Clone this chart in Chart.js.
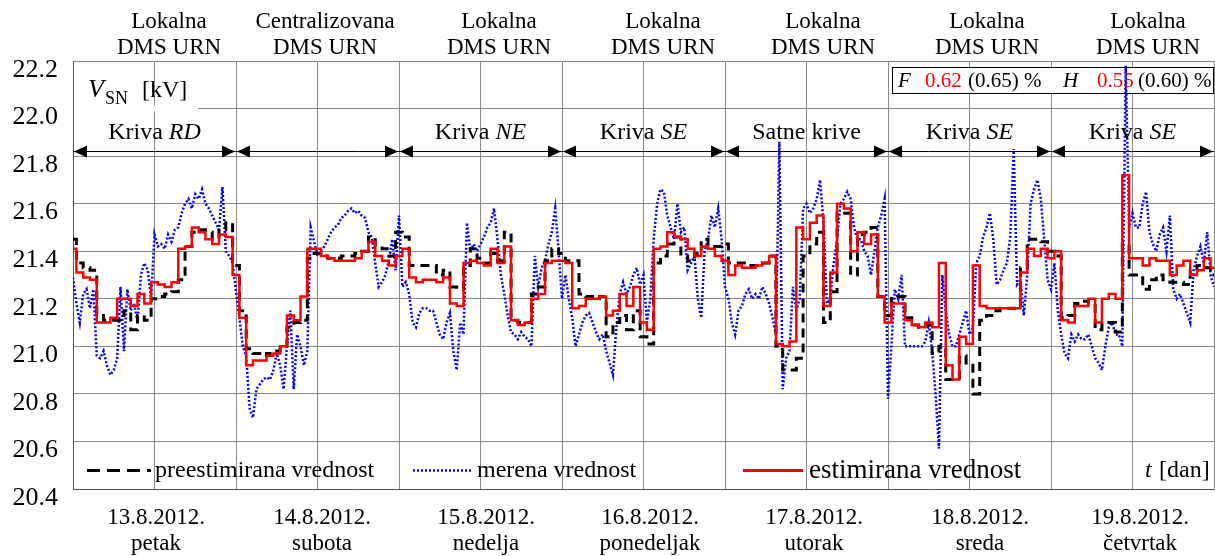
<!DOCTYPE html>
<html>
<head>
<meta charset="utf-8">
<script src="https://cdn.jsdelivr.net/npm/chart.js@4.4.1/dist/chart.umd.min.js"></script>
<style>
  html, body { margin: 0; padding: 0; background: #fff; }
  canvas { display: block; }
</style>
</head>
<body>
<canvas id="chart" width="1215" height="556"></canvas>
<script>
/* ================================
   DATA (hours from 13.8.2012. 00h)
================================ */
const dayTop = [
  ["Lokalna", "DMS URN"], ["Centralizovana", "DMS URN"], ["Lokalna", "DMS URN"],
  ["Lokalna", "DMS URN"], ["Lokalna", "DMS URN"], ["Lokalna", "DMS URN"], ["Lokalna", "DMS URN"]
];
const dayDates = ["13.8.2012.", "14.8.2012.", "15.8.2012.", "16.8.2012.", "17.8.2012.", "18.8.2012.", "19.8.2012."];
const dayNames = ["petak", "subota", "nedelja", "ponedeljak", "utorak", "sreda", "četvrtak"];
const curveLabels = [["Kriva ", "RD"], null, ["Kriva ", "NE"], ["Kriva ", "SE"], ["Satne krive", ""], ["Kriva ", "SE"], ["Kriva ", "SE"]];
const yTicks = [20.4, 20.6, 20.8, 21.0, 21.2, 21.4, 21.6, 21.8, 22.0, 22.2];

// estimirana vrednost (hourly)
const estimated = [
  21.41,21.31,21.29,21.28,21.10,21.10,21.12,21.20,21.20,21.17,21.22,21.18,21.27,21.26,21.25,21.27,21.41,21.42,21.50,21.48,21.45,21.43,21.47,21.46,
  21.30,21.12,20.92,20.94,20.94,20.96,20.97,21.00,21.13,21.11,21.21,21.41,21.41,21.38,21.37,21.36,21.36,21.36,21.37,21.40,21.44,21.38,21.36,21.34,
  21.38,21.41,21.29,21.27,21.28,21.28,21.27,21.29,21.18,21.17,21.35,21.36,21.35,21.34,21.41,21.35,21.42,21.11,21.09,21.10,21.20,21.22,21.35,21.36,
  21.36,21.35,21.16,21.17,21.20,21.20,21.21,21.13,21.15,21.22,21.17,21.25,21.10,21.07,21.41,21.42,21.48,21.46,21.45,21.41,21.38,21.42,21.41,21.38,
  21.36,21.30,21.34,21.33,21.33,21.34,21.35,21.38,21.01,21.00,21.02,21.50,21.45,21.52,21.55,21.17,21.31,21.60,21.58,21.40,21.48,21.43,21.47,21.21,
  21.10,21.18,21.18,21.11,21.09,21.08,21.10,21.08,21.35,20.92,20.86,21.04,21.01,21.34,21.17,21.16,21.16,21.16,21.16,21.16,21.31,21.41,21.38,21.41,
  21.37,21.40,21.11,21.10,21.17,21.17,21.20,21.10,21.20,21.22,21.20,21.72,21.37,21.37,21.34,21.37,21.36,21.36,21.30,21.34,21.36,21.30,21.32,21.37,
  21.33
];

// preestimirana vrednost (hourly)
const preestimated = [
  21.45,21.35,21.33,21.32,21.13,21.11,21.11,21.11,21.15,21.07,21.13,21.11,21.20,21.21,21.22,21.23,21.28,21.42,21.48,21.49,21.48,21.45,21.49,21.52,
  21.34,21.15,20.99,20.97,20.96,20.97,20.98,21.00,21.08,21.10,21.11,21.37,21.39,21.38,21.37,21.37,21.38,21.38,21.39,21.40,21.46,21.42,21.41,21.38,
  21.48,21.46,21.34,21.34,21.34,21.34,21.30,21.32,21.25,21.24,21.34,21.41,21.37,21.35,21.39,21.36,21.48,21.11,21.10,21.10,21.22,21.25,21.36,21.41,
  21.39,21.36,21.36,21.22,21.21,21.20,21.21,21.04,21.10,21.13,21.07,21.15,21.04,21.01,21.35,21.38,21.43,21.46,21.38,21.36,21.39,21.45,21.42,21.42,
  21.43,21.35,21.35,21.35,21.34,21.34,21.35,21.38,21.00,20.90,20.90,20.95,21.38,21.43,21.48,21.10,21.23,21.56,21.56,21.30,21.47,21.48,21.50,21.21,
  21.13,21.21,21.21,21.12,21.09,21.08,21.09,20.97,21.00,20.86,20.86,20.96,20.93,20.80,21.11,21.13,21.15,21.16,21.16,21.16,21.33,21.45,21.45,21.44,
  21.40,21.38,21.12,21.13,21.18,21.19,21.18,21.07,21.10,21.10,21.06,21.43,21.30,21.30,21.24,21.28,21.30,21.28,21.27,21.27,21.26,21.32,21.34,21.33,
  21.30
];

// merena vrednost (every half hour)
const measured = [
  21.29,21.18, 21.10,21.22, 21.24,21.16, 21.24,20.96, 20.95,20.98, 20.92,20.88, 20.90,20.95, 21.25,20.98, 21.24,21.15, 21.18,21.10, 21.30,21.35, 21.32,21.20,
  21.47,21.42, 21.43,21.41, 21.47,21.44, 21.49,21.50, 21.56,21.60, 21.62,21.58, 21.64,21.62, 21.66,21.60, 21.58,21.55, 21.52,21.49, 21.67,21.40, 21.38,21.35,
  21.23,21.12, 21.00,20.96, 20.74,20.70, 20.82,20.84, 20.86,20.87, 20.86,20.90, 20.97,20.92, 20.82,21.00, 21.15,20.82, 21.05,21.00, 20.92,20.98, 21.50,21.44,
  21.38,21.40, 21.42,21.45, 21.48,21.50, 21.51,21.54, 21.55,21.57, 21.58,21.56, 21.57,21.55, 21.54,21.48, 21.46,21.35, 21.25,21.27, 21.30,21.36, 21.45,21.32,
  21.55,21.25, 21.27,21.22, 21.10,21.08, 21.14,21.16, 21.16,21.15, 21.15,21.10, 21.05,21.03, 21.10,21.14, 20.98,20.90, 21.10,21.05, 21.52,21.40, 21.43,21.40,
  21.43,21.46, 21.50,21.52, 21.58,21.45, 21.30,21.22, 21.13,21.06, 21.05,21.03, 21.06,21.04, 21.03,21.00, 21.38,21.25, 21.33,21.36, 21.43,21.48, 21.58,21.40,
  21.20,21.30, 21.20,21.12, 21.00,21.05, 21.10,21.13, 21.14,21.10, 21.06,21.03, 21.05,20.98, 20.93,20.88, 21.08,21.22, 21.27,21.22, 21.25,21.30, 21.33,21.26,
  21.30,21.10, 21.20,21.45, 21.60,21.66, 21.65,21.55, 21.50,21.45, 21.60,21.48, 21.50,21.32, 21.35,21.38, 21.20,21.12, 21.40,21.45, 21.55,21.50, 21.58,21.45,
  21.25,21.20, 21.10,21.05, 21.15,21.17, 21.22,21.24, 21.20,21.22, 21.20,21.25, 21.22,21.18, 21.12,21.05, 21.86,20.82, 20.95,20.98, 21.25,21.15, 21.20,21.58,
  21.60,21.56, 21.58,21.62, 21.70,21.52, 21.18,21.20, 21.35,21.45, 21.60,21.62, 21.65,21.62, 21.50,21.45, 21.45,21.40, 21.38,21.30, 21.40,21.50, 21.55,21.62,
  20.78,21.00, 21.24,21.20, 21.30,21.00, 21.00,21.00, 21.00,21.00, 21.00,21.02, 21.10,20.98, 20.80,20.57, 21.30,21.15, 21.05,21.00, 21.00,21.05, 21.10,21.15,
  21.05,21.08, 21.35,21.38, 21.46,21.50, 21.56,21.45, 21.26,21.28, 21.32,21.35, 21.46,21.83, 21.26,21.28, 21.13,21.30, 21.60,21.66, 21.70,21.62, 21.45,21.28,
  21.24,21.35, 21.15,21.05, 20.97,20.95, 21.05,21.02, 21.05,21.03, 21.03,21.05, 21.00,20.95, 20.93,20.90, 21.00,21.08, 21.10,21.05, 21.05,21.00, 22.18,21.50,
  21.56,21.50, 21.50,21.60, 21.65,21.48, 21.43,21.40, 21.47,21.50, 21.40,21.55, 21.24,21.20, 21.22,21.18, 21.14,21.10, 21.32,21.38, 21.42,21.35, 21.48,21.30,
  21.25
];

const hourly = estimated.map((v, i) => i);
const halfHourly = measured.map((v, i) => i / 2);

function points(xs, ys) {
  return ys.map((y, i) => ({ x: xs[i], y: y }));
}

/* ================================
   DRAW HELPERS
================================ */
const SERIF = '"Liberation Serif", "Times New Roman", serif';

function font(size, italic) {
  return (italic ? "italic " : "") + size + "px " + SERIF;
}

// draws [text, italic] pieces centred on cx
function mixed(ctx, parts, cx, y, size) {
  let total = 0;
  parts.forEach(p => { ctx.font = font(size, p[1]); total += ctx.measureText(p[0]).width; });
  let x = cx - total / 2;
  ctx.textAlign = "left";
  parts.forEach(p => {
    ctx.font = font(size, p[1]);
    ctx.fillText(p[0], x, y);
    x += ctx.measureText(p[0]).width;
  });
}

function arrowHead(ctx, x, y, dir) {
  ctx.beginPath();
  ctx.moveTo(x, y);
  ctx.lineTo(x - dir * 13, y - 6);
  ctx.lineTo(x - dir * 13, y + 6);
  ctx.closePath();
  ctx.fill();
}

const decorations = {
  id: "decorations",
  beforeDatasetsDraw(chart) {
    const ctx = chart.ctx;
    const y22 = chart.scales.y.getPixelForValue(22.0);
    ctx.save();
    ctx.fillStyle = "#fff";
    ctx.fillRect(74, y22 - 3, 124, 6);
    ctx.fillRect(892, 67, 322, 26);
    ctx.strokeStyle = "#000";
    ctx.lineWidth = 1;
    ctx.strokeRect(892.5, 67.5, 321, 26);
    ctx.restore();
  },
  afterDraw(chart) {
    const ctx = chart.ctx;
    const xs = chart.scales.x;
    const area = chart.chartArea;
    ctx.save();
    ctx.fillStyle = "#000";
    ctx.textBaseline = "middle";

    /* top & bottom day labels */
    const topX = [169, 325, 499, 663, 823, 987, 1148];
    const botX = [156, 322, 486, 650, 814, 980, 1140];
    ctx.textAlign = "center";
    ctx.font = font(23);
    dayTop.forEach((l, i) => {
      ctx.fillText(l[0], topX[i], 22);
      ctx.fillText(l[1], topX[i], 48);
    });
    dayDates.forEach((d, i) => {
      ctx.fillText(d, botX[i], 518);
      ctx.fillText(dayNames[i], botX[i], 544);
    });

    /* curve arrows */
    const ay = 151;
    ctx.strokeStyle = "#000";
    ctx.lineWidth = 1;
    ctx.beginPath();
    ctx.moveTo(area.left, ay + 0.5);
    ctx.lineTo(area.right, ay + 0.5);
    ctx.stroke();
    for (let d = 0; d < 7; d++) {
      const x0 = xs.getPixelForValue(d * 24) + 1;
      const x1 = xs.getPixelForValue(d * 24 + 24) - 1;
      arrowHead(ctx, x0, ay + 0.5, -1);
      arrowHead(ctx, x1, ay + 0.5, 1);
      if (curveLabels[d]) {
        const cx = xs.getPixelForValue(d * 24 + 12);
        mixed(ctx, [[curveLabels[d][0], false], [curveLabels[d][1], true]], cx, 133, 24);
      }
    }

    /* V_SN [kV] */
    ctx.textBaseline = "alphabetic";
    ctx.textAlign = "left";
    ctx.font = font(26, true);
    ctx.fillText("V", 88, 97);
    ctx.font = font(18);
    ctx.fillText("SN", 105, 104);
    ctx.font = font(24);
    ctx.fillText("[kV]", 142, 97);

    /* F / H box */
    ctx.textBaseline = "middle";
    const fh = [["F", true, "#000", 898], ["0.62", false, "#f00", 925], ["(0.65) %", false, "#000", 968],
                ["H", true, "#000", 1063], ["0.55", false, "#f00", 1097], ["(0.60) %", false, "#000", 1138]];
    fh.forEach(p => {
      ctx.font = font(21, p[1]);
      ctx.fillStyle = p[2];
      ctx.fillText(p[0], p[3], 81);
    });

    /* legend */
    const ly = 470.5;
    ctx.lineWidth = 3;
    ctx.strokeStyle = "#000";
    ctx.setLineDash([13, 7]);
    ctx.beginPath(); ctx.moveTo(87, ly); ctx.lineTo(151, ly); ctx.stroke();
    ctx.strokeStyle = "#0000ff";
    ctx.lineWidth = 2.5;
    ctx.setLineDash([2, 2]);
    ctx.beginPath(); ctx.moveTo(413, ly); ctx.lineTo(471, ly); ctx.stroke();
    ctx.setLineDash([]);
    ctx.strokeStyle = "#ff0000";
    ctx.lineWidth = 3;
    ctx.beginPath(); ctx.moveTo(743, ly); ctx.lineTo(803, ly); ctx.stroke();
    ctx.fillStyle = "#000";
    ctx.font = font(24);
    ctx.fillText("preestimirana vrednost", 155, 471);
    ctx.fillText("merena vrednost", 477, 471);
    ctx.font = font(27);
    ctx.fillText("estimirana vrednost", 809, 471);
    ctx.font = font(24, true);
    ctx.fillText("t", 1145, 471);
    ctx.font = font(24);
    ctx.fillText("[dan]", 1159, 471);
    ctx.restore();
  }
};

/* ================================
   CHART
================================ */
new Chart(document.getElementById("chart"), {
  type: "line",
  data: {
    datasets: [
      {
        label: "estimirana vrednost",
        data: points(hourly, estimated),
        borderColor: "#ff0000",
        borderWidth: 2.5,
        stepped: "middle",
        pointRadius: 0,
        order: 0
      },
      {
        label: "preestimirana vrednost",
        data: points(hourly, preestimated),
        borderColor: "#000000",
        borderWidth: 3,
        borderDash: [9, 6],
        stepped: "middle",
        pointRadius: 0,
        order: 1
      },
      {
        label: "merena vrednost",
        data: points(halfHourly, measured),
        borderColor: "#0000ff",
        borderWidth: 2.5,
        borderDash: [2, 2],
        pointRadius: 0,
        tension: 0,
        order: 2
      }
    ]
  },
  options: {
    responsive: false,
    devicePixelRatio: 1,
    animation: false,
    layout: { padding: { top: 61, bottom: 67, right: 1, left: 0 } },
    plugins: { legend: { display: false }, tooltip: { enabled: false } },
    scales: {
      x: {
        type: "linear",
        min: 0,
        max: 168,
        ticks: { stepSize: 12, display: false },
        grid: { color: "#8a8a8a", lineWidth: 1, drawTicks: false },
        border: { color: "#555" },
        afterFit(scale) { scale.height = 0; }
      },
      y: {
        min: 20.4,
        max: 22.2,
        afterBuildTicks(scale) { scale.ticks = yTicks.map(v => ({ value: v })); },
        ticks: {
          callback: v => v.toFixed(1),
          color: "#000",
          padding: 15,
          labelOffset: 9,
          font: { family: SERIF, size: 26 }
        },
        grid: { color: "#8a8a8a", lineWidth: 1, drawTicks: false },
        border: { color: "#555" },
        afterFit(scale) { scale.width = 73; }
      }
    }
  },
  plugins: [decorations]
});
</script>
</body>
</html>
